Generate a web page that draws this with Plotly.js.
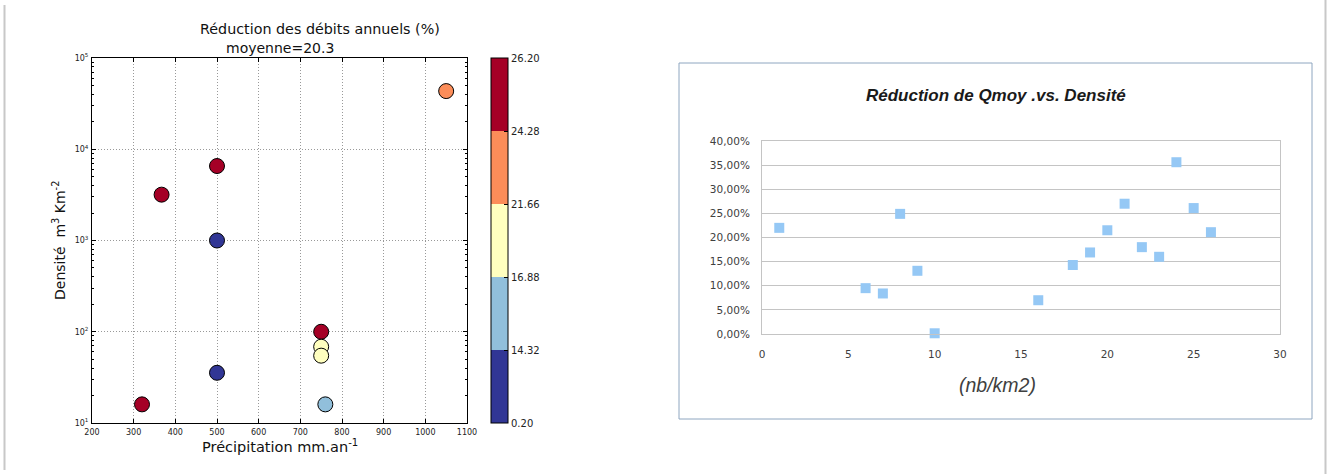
<!DOCTYPE html>
<html>
<head>
<meta charset="utf-8">
<script src="https://cdn.plot.ly/plotly-3.0.1.min.js"></script>
<style>html,body{margin:0;padding:0;background:#fff;}#chart{width:1328px;height:474px;}</style>
</head>
<body>
<div id="chart"></div>
<script>
// ---- Left chart data (matplotlib scatter) ----
const precipitation = [320, 367, 500, 500, 500, 750, 750, 750, 760, 1050];
const density       = [16, 3180, 6550, 1000, 35.5, 100, 68.5, 54.7, 16, 43400];
const reduction     = [25.5, 25.0, 26.2, 0.2, 12.5, 24.9, 19.5, 18.0, 15.6, 23.0];
const cbBounds = [0.20, 14.32, 16.88, 21.66, 24.28, 26.20];
const cbColors = ['#313695', '#91bfdb', '#ffffbf', '#fc8d59', '#a50026'];
const xTicksLeft = [200, 300, 400, 500, 600, 700, 800, 900, 1000, 1100];
const yTicksLeft = [10, 100, 1000, 10000, 100000];
const yTickTextLeft = ['10<sup>1</sup>', '10<sup>2</sup>', '10<sup>3</sup>', '10<sup>4</sup>', '10<sup>5</sup>'];

// ---- Right chart data (Excel scatter) ----
const densityNb = [1, 6, 7, 8, 9, 10, 16, 18, 19, 20, 21, 22, 23, 24, 25, 26];
const qmoyReduction = [22.0, 9.5, 8.4, 24.9, 13.1, 0.15, 7.0, 14.3, 16.9, 21.5, 27.0, 18.0, 16.0, 35.6, 26.1, 21.1];

const W = 1328, H = 474;
const fx = px => px / W;
const fy = py => 1 - py / H;

// map reduction values to discrete colour bins (uniform spacing like matplotlib BoundaryNorm)
const nBins = cbColors.length;
const binIndex = reduction.map(v => {
  for (let i = 0; i < nBins; i++) if (v <= cbBounds[i + 1]) return i + 0.5;
  return nBins - 0.5;
});
const discreteScale = [];
cbColors.forEach((c, i) => {
  discreteScale.push([i / nBins, c]);
  discreteScale.push([(i + 1) / nBins, c]);
});

const tickFontL = {family: 'DejaVu Sans', size: 8, color: '#222'};

const traces = [
  {
    type: 'scatter', mode: 'markers', xaxis: 'x', yaxis: 'y',
    x: precipitation, y: density,
    text: reduction.map(v => v.toFixed(2)),
    marker: {
      size: 15, color: binIndex, cmin: 0, cmax: nBins,
      colorscale: discreteScale, line: {color: '#000', width: 1},
      showscale: true,
      colorbar: {
        x: fx(491), xanchor: 'left', xpad: 0,
        y: fy(58), yanchor: 'top', ypad: 0,
        lenmode: 'pixels', len: 365, thickness: 17,
        outlinewidth: 1, outlinecolor: '#000',
        tickvals: cbBounds.map((b, i) => i),
        ticktext: cbBounds.map(b => b.toFixed(2)),
        ticks: 'inside', ticklen: 4, tickcolor: '#000',
        tickfont: {family: 'DejaVu Sans', size: 10, color: '#222'}
      }
    },
    cliponaxis: false, showlegend: false, hoverinfo: 'x+y+text'
  },
  {
    type: 'scatter', mode: 'markers', xaxis: 'x2', yaxis: 'y2',
    x: densityNb, y: qmoyReduction,
    marker: {symbol: 'square', size: 10, color: '#95c8f5'},
    cliponaxis: false, showlegend: false
  }
];

const layout = {
  width: W, height: H,
  margin: {l: 0, r: 0, t: 0, b: 0},
  paper_bgcolor: '#fff', plot_bgcolor: '#fff',
  separators: ', ',
  xaxis: {
    domain: [fx(92), fx(467)], range: [200, 1100], anchor: 'y',
    tickvals: xTicksLeft, ticks: 'inside', ticklen: 4, tickcolor: '#000',
    showline: true, linecolor: '#000', linewidth: 1, mirror: 'ticks',
    showgrid: true, gridcolor: '#999', griddash: '1px,2px', gridwidth: 1,
    zeroline: false, tickfont: tickFontL, ticklabelstandoff: 1
  },
  yaxis: {
    domain: [fy(423), fy(58)], type: 'log', range: [1, 5], anchor: 'x',
    tickvals: yTicksLeft, ticktext: yTickTextLeft,
    ticks: 'inside', ticklen: 4, tickcolor: '#000',
    minor: {ticks: 'inside', ticklen: 2, tickcolor: '#000', showgrid: false, dtick: 'D1'},
    showline: true, linecolor: '#000', linewidth: 1, mirror: 'ticks',
    showgrid: true, gridcolor: '#999', griddash: '1px,2px', gridwidth: 1,
    zeroline: false, tickfont: tickFontL, ticklabelstandoff: 1
  },
  xaxis2: {
    domain: [fx(762), fx(1280)], range: [0, 30], anchor: 'y2', dtick: 5,
    showline: true, linecolor: '#c4c4c4', linewidth: 1, mirror: true,
    showgrid: false, zeroline: false, ticks: '',
    tickfont: {family: 'DejaVu Sans', size: 10.5, color: '#404040'},
    ticklabelstandoff: 10
  },
  yaxis2: {
    domain: [fy(334), fy(141)], range: [0, 40], anchor: 'x2', dtick: 5,
    tickformat: '.2f', ticksuffix: '%',
    showline: true, linecolor: '#c4c4c4', linewidth: 1, mirror: true,
    showgrid: true, gridcolor: '#c4c4c4', gridwidth: 1, zeroline: false, ticks: '',
    tickfont: {family: 'DejaVu Sans', size: 10.5, color: '#404040'},
    ticklabelstandoff: 9
  },
  shapes: [
    {type: 'rect', xref: 'paper', yref: 'paper', x0: fx(679), x1: fx(1312), y0: fy(419), y1: fy(63),
     line: {color: '#8ea6c0', width: 1}, fillcolor: 'rgba(0,0,0,0)', layer: 'below'},
    {type: 'line', xref: 'paper', yref: 'paper', x0: fx(4.5), x1: fx(4.5), y0: fy(470), y1: fy(5),
     line: {color: '#c8c8c8', width: 2}},
    {type: 'line', xref: 'paper', yref: 'paper', x0: fx(1325.5), x1: fx(1325.5), y0: 0, y1: 1,
     line: {color: '#c8c8c8', width: 2}}
  ],
  annotations: [
    {text: 'Réduction des débits annuels (%)', xref: 'paper', yref: 'paper', x: fx(320), y: fy(29),
     xanchor: 'center', yanchor: 'middle', showarrow: false,
     font: {family: 'DejaVu Sans', size: 14.3, color: '#111'}},
    {text: 'moyenne=20.3', xref: 'paper', yref: 'paper', x: fx(280), y: fy(48),
     xanchor: 'center', yanchor: 'middle', showarrow: false,
     font: {family: 'DejaVu Sans', size: 14, color: '#111'}},
    {text: 'Précipitation mm.an<sup>-1</sup>', xref: 'paper', yref: 'paper', x: fx(280), y: fy(446),
     xanchor: 'center', yanchor: 'middle', showarrow: false,
     font: {family: 'DejaVu Sans', size: 14.5, color: '#111'}},
    {text: 'Densité  m<sup>3</sup> Km<sup>-2</sup>', xref: 'paper', yref: 'paper', x: fx(59), y: fy(241),
     xanchor: 'center', yanchor: 'middle', textangle: -90, showarrow: false,
     font: {family: 'DejaVu Sans', size: 14, color: '#111'}},
    {text: '<b><i>Réduction de Qmoy .vs. Densité</i></b>', xref: 'paper', yref: 'paper', x: fx(996), y: fy(95),
     xanchor: 'center', yanchor: 'middle', showarrow: false,
     font: {family: 'Liberation Sans', size: 17, color: '#1a1a1a'}},
    {text: '<i>(nb/km2)</i>', xref: 'paper', yref: 'paper', x: fx(997), y: fy(385),
     xanchor: 'center', yanchor: 'middle', showarrow: false,
     font: {family: 'Liberation Sans', size: 19.5, color: '#404040'}}
  ]
};

Plotly.newPlot('chart', traces, layout, {staticPlot: true, displayModeBar: false});
</script>
</body>
</html>
